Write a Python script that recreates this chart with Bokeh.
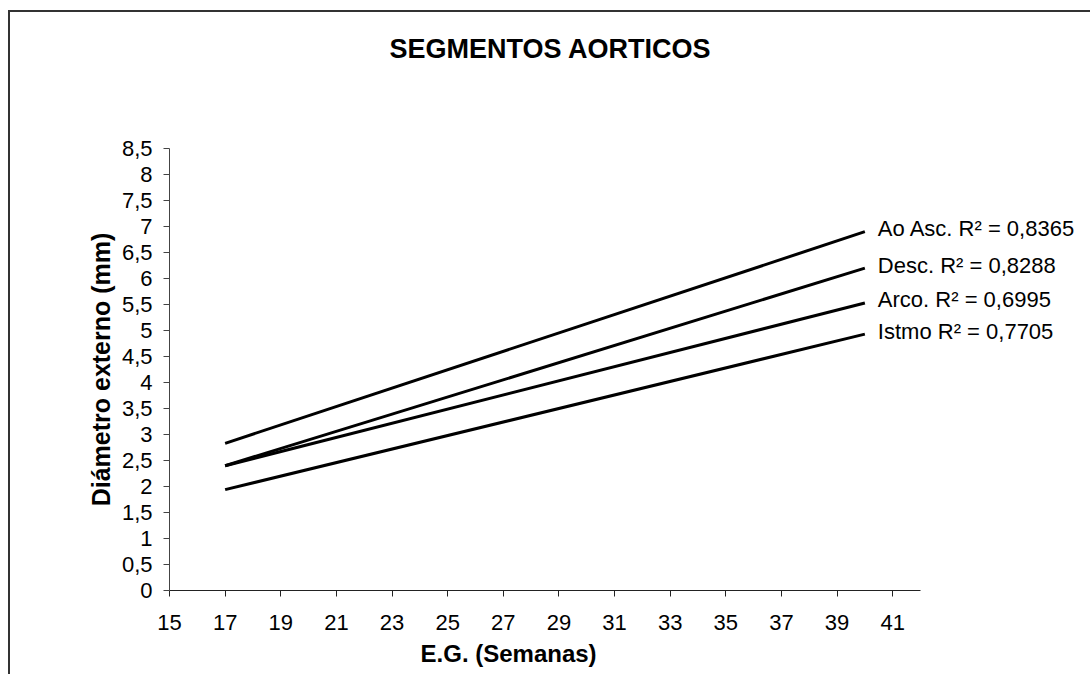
import math
from bokeh.plotting import figure
from bokeh.models import Range1d, FixedTicker, Label, LinearAxis
from bokeh.embed import file_html
from bokeh.resources import INLINE

# ---- data ----
weeks = [17, 40]
ao_asc = [2.83, 6.90]
desc = [2.40, 6.20]
arco = [2.40, 5.53]
istmo = [1.94, 4.93]
series_names = ["Ao Asc.", "Desc.", "Arco.", "Istmo"]
r2_values = ["0,8365", "0,8288", "0,6995", "0,7705"]
x_ticks = list(range(15, 42, 2))
y_ticks = [i * 0.5 for i in range(0, 18)]
title_text = "SEGMENTOS AORTICOS"
x_title = "E.G. (Semanas)"
y_title = "Diámetro externo (mm)"

FONT = "Liberation Sans"

# layout: the frame covers the whole canvas; axes sit at fixed data locations
W, H = 1080, 662
PX_X = 751 / 27.0     # pixels per week
PX_Y = 442 / 8.5      # pixels per mm
x0 = 15 - 159 / PX_X
y1 = 578 / PX_Y

p = figure(frame_width=W, frame_height=H,
           min_border_left=0, min_border_right=0, min_border_top=0, min_border_bottom=0,
           x_range=Range1d(x0, x0 + W / PX_X), y_range=Range1d(y1 - H / PX_Y, y1),
           x_axis_location=None, y_axis_location=None,
           output_backend="svg", toolbar_location=None)
p.styles = {"border-left": "2px solid #333", "border-top": "2px solid #333",
            "margin-top": "10px", "margin-left": "8px"}
p.outline_line_color = None
p.xgrid.visible = False
p.ygrid.visible = False
p.background_fill_color = "white"
p.border_fill_color = "white"

# axes
xa = LinearAxis(fixed_location=0, bounds=(15, 42))
xa.ticker = FixedTicker(ticks=x_ticks)
xa.axis_line_color = "#222"
xa.major_tick_line_color = "#222"
xa.major_tick_out = 6
xa.major_tick_in = 0
xa.minor_tick_line_color = None
xa.major_label_text_font = FONT
xa.major_label_text_font_size = "22px"
xa.major_label_text_color = "black"
xa.major_label_standoff = 18
p.add_layout(xa, "below")

ya = LinearAxis(fixed_location=15, bounds=(0, 8.5))
ya.ticker = FixedTicker(ticks=y_ticks)
ya.major_label_overrides = {t: (str(int(t)) if t == int(t) else str(t).replace(".", ",")) for t in y_ticks}
ya.axis_line_color = "#444"
ya.major_tick_line_color = "#444"
ya.major_tick_out = 6
ya.major_tick_in = 0
ya.minor_tick_line_color = None
ya.major_label_text_font = FONT
ya.major_label_text_font_size = "22px"
ya.major_label_text_color = "black"
ya.major_label_standoff = 11
p.add_layout(ya, "left")

# lines
for vals, name, r2 in zip([ao_asc, desc, arco, istmo], series_names, r2_values):
    p.line(weeks, vals, line_color="black", line_width=3)
    p.add_layout(Label(x=weeks[-1], y=vals[-1], x_offset=13, y_offset=3,
                       text=f"{name} R² = {r2}", text_font=FONT, text_font_size="22px",
                       text_baseline="middle", text_align="left", text_color="black"))

# titles
p.add_layout(Label(x=28.7, y=10.42, text=title_text, text_font=FONT, text_font_size="27px",
                   text_font_style="bold", text_align="center", text_baseline="middle",
                   text_color="black"))
p.add_layout(Label(x=27.19, y=-1.21, text=x_title, text_font=FONT, text_font_size="24px",
                   text_font_style="bold", text_align="center", text_baseline="middle",
                   text_color="black"))
p.add_layout(Label(x=12.52, y=4.25, angle=math.pi / 2, text=y_title, text_font=FONT,
                   text_font_size="25px", text_font_style="bold", text_align="center",
                   text_baseline="middle", text_color="black"))

open("out.html", "w").write(file_html(p, INLINE))
